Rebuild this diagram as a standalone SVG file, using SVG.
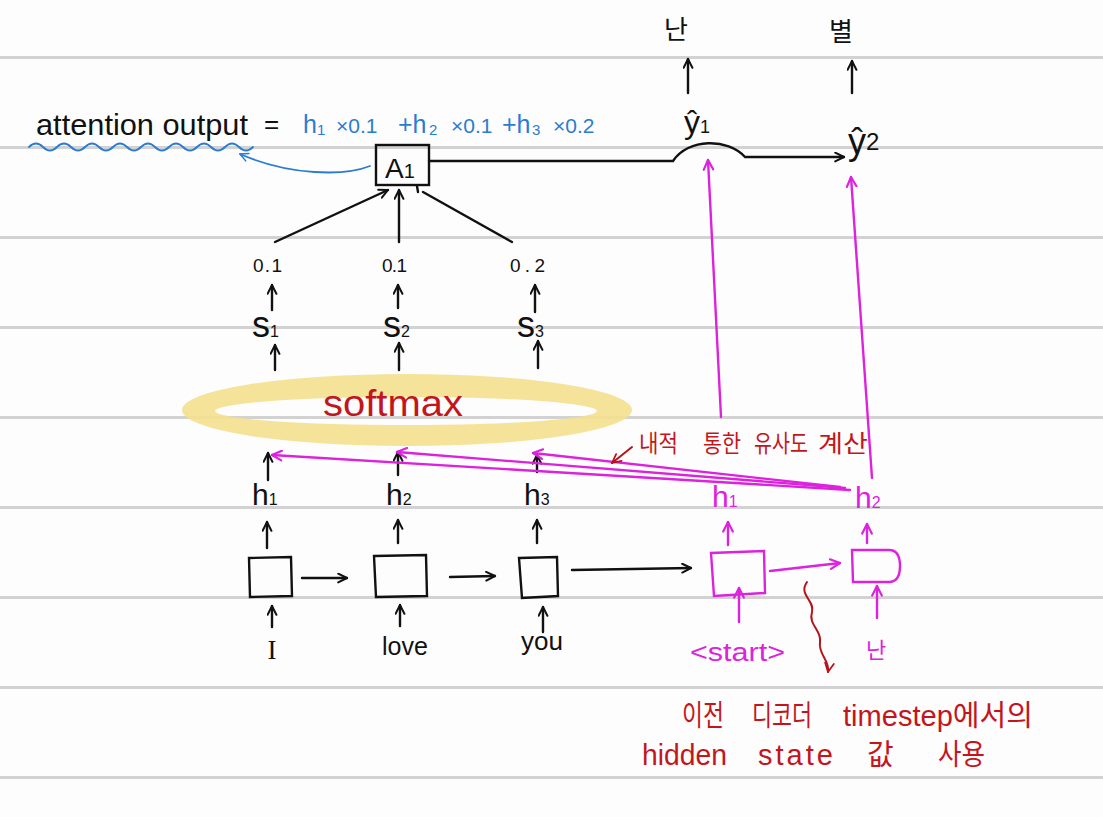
<svg xmlns="http://www.w3.org/2000/svg" width="1103" height="817" viewBox="0 0 1103 817">
<style>
.rule{stroke:#d2d2d2;stroke-width:3}
.k{fill:#111;font-family:"Liberation Sans","Noto Sans CJK KR",sans-serif}
.b{fill:#2b7bd3;font-family:"Liberation Sans",sans-serif}
.m{fill:#dd22dd;font-family:"Liberation Sans","Noto Sans CJK KR",sans-serif}
.r{fill:#c3161c;font-family:"Liberation Sans","Noto Sans CJK KR",sans-serif}
.lk{stroke:#111;stroke-width:2.4;fill:none;stroke-linecap:round}
.lm{stroke:#dd22dd;stroke-width:2.4;fill:none;stroke-linecap:round}
.lr{stroke:#b5121a;stroke-width:2;fill:none;stroke-linecap:round}
.lb{stroke:#2b7bd3;stroke-width:1.8;fill:none;stroke-linecap:round}
.ak{marker-end:url(#ak)}
.am{marker-end:url(#am)}
</style>
<defs>
<marker id="ak" viewBox="0 0 10 10" refX="9" refY="5" markerWidth="11" markerHeight="11" markerUnits="userSpaceOnUse" orient="auto"><path d="M1,1 L9,5 L1,9" fill="none" stroke="#111" stroke-width="1.8" stroke-linecap="round" stroke-linejoin="round"/></marker>
<marker id="am" viewBox="0 0 10 10" refX="9" refY="5" markerWidth="12" markerHeight="12" markerUnits="userSpaceOnUse" orient="auto"><path d="M1,1 L9,5 L1,9" fill="none" stroke="#dd22dd" stroke-width="1.8" stroke-linecap="round" stroke-linejoin="round"/></marker>
<marker id="ar" viewBox="0 0 10 10" refX="9" refY="5" markerWidth="11" markerHeight="11" markerUnits="userSpaceOnUse" orient="auto"><path d="M1,1 L9,5 L1,9" fill="none" stroke="#b5121a" stroke-width="1.6" stroke-linecap="round" stroke-linejoin="round"/></marker>
<marker id="ab" viewBox="0 0 10 10" refX="9" refY="5" markerWidth="10" markerHeight="10" markerUnits="userSpaceOnUse" orient="auto"><path d="M1,1 L9,5 L1,9" fill="none" stroke="#2b7bd3" stroke-width="1.5" stroke-linecap="round" stroke-linejoin="round"/></marker>
</defs>
<rect width="1103" height="817" fill="#fdfdfd"/>
<g id="ruled-lines">
<line class="rule" x1="0" y1="57.5" x2="1103" y2="57.5"/>
<line class="rule" x1="0" y1="147.5" x2="1103" y2="147.5"/>
<line class="rule" x1="0" y1="237.5" x2="1103" y2="237.5"/>
<line class="rule" x1="0" y1="327.5" x2="1103" y2="327.5"/>
<line class="rule" x1="0" y1="417.5" x2="1103" y2="417.5"/>
<line class="rule" x1="0" y1="507.5" x2="1103" y2="507.5"/>
<line class="rule" x1="0" y1="597.5" x2="1103" y2="597.5"/>
<line class="rule" x1="0" y1="687.5" x2="1103" y2="687.5"/>
<line class="rule" x1="0" y1="777.5" x2="1103" y2="777.5"/>
</g>
<g id="softmax">
<path d="M182,410 A225,36 0 1,0 632,410 A225,36 0 1,0 182,410 Z M215,411 A191,14 0 1,1 597,411 A191,14 0 1,1 215,411 Z" fill="#f5e08f" fill-rule="evenodd" opacity="0.9"/>
<text class="r" x="323" y="416" font-size="36" textLength="140" lengthAdjust="spacingAndGlyphs">softmax</text>
</g>
<g id="attention-output">
<text class="k" x="36" y="135" font-size="30" textLength="212" lengthAdjust="spacingAndGlyphs">attention output</text>
<text class="k" x="264" y="133" font-size="26">=</text>
<path class="lb" d="M29,147 q7,-7 14,0 t14,0 t14,0 t14,0 t14,0 t14,0 t14,0 t14,0 t14,0 t14,0 t14,0 t14,0 t14,0 t14,0 t14,0 t14,0"/>
</g>
<g id="formula">
<text class="b" y="133" font-size="25"><tspan x="303">h</tspan><tspan x="317" font-size="15" dy="2">1</tspan><tspan x="336" dy="-2" font-size="21">×0.1</tspan><tspan x="398">+h</tspan><tspan x="429" font-size="15" dy="2">2</tspan><tspan x="451" dy="-2" font-size="21">×0.1</tspan><tspan x="502">+h</tspan><tspan x="532" font-size="15" dy="2">3</tspan><tspan x="553" dy="-2" font-size="21">×0.2</tspan></text>
</g>
<g id="A1">
<rect x="376" y="145" width="53" height="40" fill="none" stroke="#111" stroke-width="2.4"/>
<text class="k" x="385" y="178" font-size="28">A<tspan font-size="20">1</tspan></text>
</g>
<g id="y1hat"><text class="k" x="684" y="133" font-size="32">ŷ<tspan font-size="18">1</tspan></text></g>
<g id="y2hat"><text class="k" x="848" y="154" font-size="36">ŷ<tspan font-size="24" dy="-4">2</tspan></text></g>
<g id="out1"><text class="k" x="676" y="39" font-size="26" text-anchor="middle">난</text></g>
<g id="out2"><text class="k" x="841" y="41" font-size="26" text-anchor="middle">별</text></g>
<g id="weights">
<text class="k" x="253" y="272" font-size="19" textLength="29">0.1</text>
<text class="k" x="382" y="272" font-size="19" textLength="25">0.1</text>
<text class="k" x="510" y="272" font-size="19" textLength="35">0.2</text>
</g>
<g id="scores">
<text class="k" x="252" y="337" font-size="36">s<tspan font-size="16">1</tspan></text>
<text class="k" x="383" y="337" font-size="36">s<tspan font-size="16">2</tspan></text>
<text class="k" x="517" y="337" font-size="36">s<tspan font-size="16">3</tspan></text>
</g>
<g id="enc-hidden">
<text class="k" x="252" y="505" font-size="30">h<tspan font-size="16">1</tspan></text>
<text class="k" x="386" y="505" font-size="30">h<tspan font-size="16">2</tspan></text>
<text class="k" x="524" y="505" font-size="30">h<tspan font-size="16">3</tspan></text>
</g>
<g id="enc-cell1"><path d="M249,558 L291,557 L292,596 L250,597 Z" fill="none" stroke="#111" stroke-width="2.4"/></g>
<g id="enc-cell2"><path d="M374,556 L426,555 L427,596 L376,597 Z" fill="none" stroke="#111" stroke-width="2.4"/></g>
<g id="enc-cell3"><path d="M519,558 L557,557 L558,596 L522,598 Z" fill="none" stroke="#111" stroke-width="2.4"/></g>
<g id="inputs">
<text font-family="Liberation Serif,serif" fill="#111" x="272" y="659" font-size="27" text-anchor="middle">I</text>
<text class="k" x="382" y="655" font-size="26" textLength="46" lengthAdjust="spacingAndGlyphs">love</text>
<text class="k" x="521" y="650" font-size="26" textLength="42" lengthAdjust="spacingAndGlyphs">you</text>
</g>
<g id="dec-cell1"><path d="M711,553 L764,551 L765,593 L714,596 Z" fill="none" stroke="#dd22dd" stroke-width="2.4"/></g>
<g id="dec-cell2"><path d="M852,550 H889 Q900,550 900,566 Q900,582 889,582 H853 Z" fill="none" stroke="#dd22dd" stroke-width="2.4"/></g>
<g id="dec-hidden">
<text class="m" x="712" y="507" font-size="30">h<tspan font-size="16">1</tspan></text>
<text class="m" x="855" y="508" font-size="30">h<tspan font-size="16">2</tspan></text>
</g>
<g id="dec-inputs">
<text class="m" x="690" y="661" font-size="25" textLength="95" lengthAdjust="spacingAndGlyphs">&lt;start&gt;</text>
<text class="m" x="876" y="658" font-size="22" text-anchor="middle">난</text>
</g>
<g id="note-dot">
<text class="r" y="452" font-size="24"><tspan x="639" textLength="39" lengthAdjust="spacingAndGlyphs">내적</tspan><tspan x="703" textLength="38" lengthAdjust="spacingAndGlyphs">통한</tspan><tspan x="754" textLength="54" lengthAdjust="spacingAndGlyphs">유사도</tspan><tspan x="818" textLength="50" lengthAdjust="spacingAndGlyphs">계산</tspan></text>
</g>
<g id="note-prev">
<text class="r" y="726" font-size="29"><tspan x="682" textLength="42" lengthAdjust="spacingAndGlyphs">이전</tspan><tspan x="752" textLength="60" lengthAdjust="spacingAndGlyphs">디코더</tspan><tspan x="843" textLength="190" lengthAdjust="spacingAndGlyphs">timestep에서의</tspan></text>
<text class="r" y="765" font-size="29"><tspan x="642" textLength="85" lengthAdjust="spacingAndGlyphs">hidden</tspan><tspan x="758" letter-spacing="3">state</tspan><tspan x="867" letter-spacing="0">값</tspan><tspan x="938" textLength="47" lengthAdjust="spacingAndGlyphs">사용</tspan></text>
</g>
<g id="connectors">
<path class="lk ak" d="M688,93 L688,59"/>
<path class="lk ak" d="M852,93 L852,61"/>
<path class="lk ak" d="M429,161 H673 C688,138 728,138 745,157 H844"/>
<path class="lk ak" d="M275,242 L388,190"/>
<path class="lk ak" d="M399,242 L399,190"/>
<path class="lk" d="M512,242 L423,192"/>
<path class="lk" d="M417,186 L418,192"/>
<path class="lb" d="M370,166 C345,176 290,176 240,154" marker-end="url(#ab)"/>
<path class="lk ak" d="M272,310 L272,285"/>
<path class="lk ak" d="M398,308 L398,285"/>
<path class="lk ak" d="M535,312 L535,285"/>
<path class="lk ak" d="M275,370 L275,345"/>
<path class="lk ak" d="M399,370 L399,343"/>
<path class="lk ak" d="M538,368 L538,341"/>
<path class="lk ak" d="M268,480 L268,453"/>
<path class="lk ak" d="M398,475 L398,452"/>
<path class="lk ak" d="M537,472 L537,455"/>
<path class="lk ak" d="M267,548 L267,522"/>
<path class="lk ak" d="M398,543 L398,520"/>
<path class="lk ak" d="M537,543 L537,520"/>
<path class="lk ak" d="M302,578 L347,578"/>
<path class="lk ak" d="M450,577 L495,576"/>
<path class="lk ak" d="M572,570 L691,568"/>
<path class="lk ak" d="M272,627 L272,606"/>
<path class="lk ak" d="M400,626 L400,605"/>
<path class="lk ak" d="M543,632 L543,607"/>
<path class="lm am" d="M770,571 L840,563"/>
<path class="lm am" d="M728,545 L728,522"/>
<path class="lm am" d="M867,543 L867,524"/>
<path class="lm am" d="M739,622 L739,588"/>
<path class="lm am" d="M877,618 L877,586"/>
<path class="lm am" d="M721,417 L708,160"/>
<path class="lm am" d="M872,478 L851,177"/>
<path class="lm am" d="M850,490 L272,455"/>
<path class="lm am" d="M845,488 L397,452"/>
<path class="lm am" d="M840,487 L533,453"/>
<path class="lr" d="M632,447 L612,463" marker-end="url(#ar)"/>
<path class="lr" d="M807,582 C798,595 815,600 812,612 C808,625 822,630 820,642 C818,655 830,660 828,672" marker-end="url(#ar)"/>
</g>
</svg>
